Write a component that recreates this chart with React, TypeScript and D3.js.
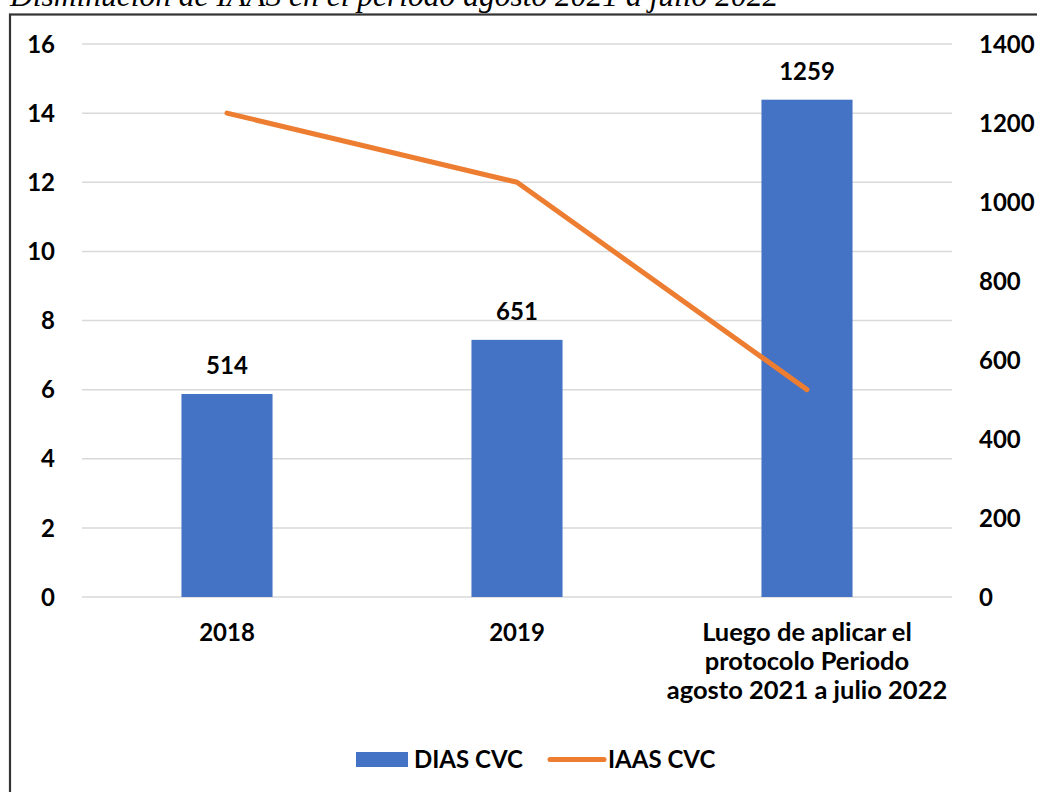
import React from "react";
import * as d3 from "d3";

const categories: string[][] = [
  ["2018"],
  ["2019"],
  ["Luego de aplicar el", "protocolo Periodo", "agosto 2021 a julio 2022"],
];
const categoryKeys = ["2018", "2019", "Luego"];
const diasCVC = [514, 651, 1259];
const iaasCVC = [14, 12, 6];
const leftTicks = [0, 2, 4, 6, 8, 10, 12, 14, 16];
const rightTicks = [0, 200, 400, 600, 800, 1000, 1200, 1400];
const title = "Disminución de IAAS en el periodo agosto 2021 a julio 2022";

const W = 1037;
const H = 792;
const FONT = "Lato, 'Open Sans', sans-serif";
const BLUE = "#4472C4";
const ORANGE = "#ED7D31";

export default function App() {
  const x = d3
    .scaleBand<string>()
    .domain(categoryKeys)
    .range([82, 952])
    .paddingInner(0.686)
    .paddingOuter(0.343);
  const yL = d3.scaleLinear().domain([0, 16]).range([597, 44]);
  const yR = d3.scaleLinear().domain([0, 1400]).range([597, 44]);
  const cx = (i: number) => (x(categoryKeys[i]) as number) + x.bandwidth() / 2;

  const line = d3
    .line<number>()
    .x((_, i) => cx(i))
    .y((d) => yL(d));

  return (
    <svg
      width={W}
      height={H}
      style={{ position: "absolute", left: 0, top: 0, display: "block", background: "#fff" }}
    >
      <text
        x={10}
        y={6}
        fontFamily="'Liberation Serif', 'Times New Roman', serif"
        fontStyle="italic"
        fontSize={31.5}
        fill="#000"
      >
        {title}
      </text>
      {/* chart border */}
      <rect x={10} y={14.5} width={1040} height={800} fill="none" stroke="#333" strokeWidth={2.2} />

      {/* gridlines */}
      {leftTicks.map((t) => (
        <line key={"g" + t} x1={82} x2={952} y1={yL(t)} y2={yL(t)} stroke="#D9D9D9" strokeWidth={1.5} />
      ))}

      {/* left axis labels */}
      {leftTicks.map((t) => (
        <text
          key={"l" + t}
          x={55}
          y={yL(t)}
          dy="0.36em"
          textAnchor="end"
          fontFamily={FONT}
          fontWeight={700}
          fontSize={24}
          fill="#000"
        >
          {t}
        </text>
      ))}

      {/* right axis labels */}
      {rightTicks.map((t) => (
        <text
          key={"r" + t}
          x={979}
          y={yR(t)}
          dy="0.36em"
          textAnchor="start"
          fontFamily={FONT}
          fontWeight={700}
          fontSize={24}
          fill="#000"
        >
          {t}
        </text>
      ))}

      {/* bars */}
      {diasCVC.map((v, i) => (
        <rect
          key={"b" + i}
          x={x(categoryKeys[i])}
          y={yR(v)}
          width={x.bandwidth()}
          height={yR(0) - yR(v)}
          fill={BLUE}
        />
      ))}

      {/* bar labels */}
      {diasCVC.map((v, i) => (
        <text
          key={"bl" + i}
          x={cx(i)}
          y={yR(v) - 20}
          textAnchor="middle"
          fontFamily={FONT}
          fontWeight={700}
          fontSize={24}
          fill="#000"
        >
          {v}
        </text>
      ))}

      {/* line */}
      <path
        d={line(iaasCVC) || ""}
        fill="none"
        stroke={ORANGE}
        strokeWidth={5}
        strokeLinecap="round"
        strokeLinejoin="round"
      />

      {/* category labels */}
      {categories.map((lines, i) => (
        <text
          key={"c" + i}
          textAnchor="middle"
          fontFamily={FONT}
          fontWeight={700}
          fontSize={lines.length > 1 ? 25.5 : 24}
          fill="#000"
        >
          {lines.map((ln, j) => (
            <tspan key={j} x={cx(i)} y={641 + j * 29}>
              {ln}
            </tspan>
          ))}
        </text>
      ))}

      {/* legend */}
      <rect x={356} y={752} width={52} height={15} fill={BLUE} />
      <text x={414} y={768} fontFamily={FONT} fontWeight={700} fontSize={24} fill="#000">
        DIAS CVC
      </text>
      <line x1={550} x2={604} y1={759.5} y2={759.5} stroke={ORANGE} strokeWidth={5} strokeLinecap="round" />
      <text x={608} y={768} fontFamily={FONT} fontWeight={700} fontSize={24} fill="#000">
        IAAS CVC
      </text>
    </svg>
  );
}
